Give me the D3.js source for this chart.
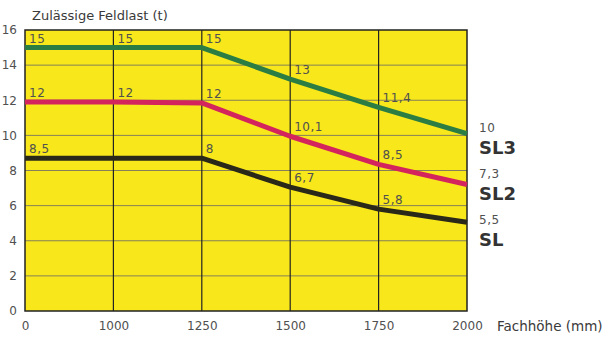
<!DOCTYPE html>
<html><head><meta charset="utf-8">
<script src="https://cdn.jsdelivr.net/npm/d3@7"></script>
<style>body{margin:0;background:#fff}svg{display:block}text{font-family:"DejaVu Sans",sans-serif}</style>
</head><body><svg id="c" width="607" height="339"></svg>
<script>
const categories = [0, 1000, 1250, 1500, 1750, 2000];
const yTicks = [0, 2, 4, 6, 8, 10, 12, 14, 16];
const sl3Values = [15, 15, 15, 13.2, 11.6, 10.1];
const sl2Values = [11.9, 11.9, 11.85, 9.95, 8.35, 7.2];
const slValues  = [8.7, 8.7, 8.7, 7.05, 5.8, 5.05];
const sl3Labels = ["15", "15", "15", "13", "11,4", "10"];
const sl2Labels = ["12", "12", "12", "10,1", "8,5", "7,3"];
const slLabels  = ["8,5", "", "8", "6,7", "5,8", "5,5"];
const seriesNames = ["SL3", "SL2", "SL"];

const series = [
  {name: seriesNames[0], values: sl3Values, labels: sl3Labels, color: "#2b7d43"},
  {name: seriesNames[1], values: sl2Values, labels: sl2Labels, color: "#d3245e"},
  {name: seriesNames[2], values: slValues, labels: slLabels, color: "#2a2818"}
];

const svg = d3.select("#c");
const L = 25, R = 467, T = 30, B = 311;
const x = d3.scalePoint().domain(categories).range([L, R]);
const y = d3.scaleLinear().domain([0, 16]).range([B, T]);
const txt = "#505050";

svg.append("rect").attr("x", L).attr("y", T).attr("width", R - L).attr("height", B - T).attr("fill", "#f8e71a");

svg.append("g").selectAll("line").data(yTicks.slice(1, -1)).join("line")
  .attr("x1", L).attr("x2", R).attr("y1", d => y(d)).attr("y2", d => y(d))
  .attr("stroke", "#85805a").attr("stroke-width", 1);
svg.append("g").selectAll("line").data(categories.slice(1, -1)).join("line")
  .attr("y1", T).attr("y2", B).attr("x1", d => x(d)).attr("x2", d => x(d))
  .attr("stroke", "#222").attr("stroke-width", 1.2);
svg.append("rect").attr("x", L).attr("y", T).attr("width", R - L).attr("height", B - T)
  .attr("fill", "none").attr("stroke", "#222").attr("stroke-width", 1.5);

const yAx = svg.append("g").attr("transform", `translate(${L - 8},0)`)
  .call(d3.axisLeft(y).tickValues(yTicks).tickSize(0).tickPadding(0));
yAx.select(".domain").remove();
yAx.selectAll("text").attr("font-size", 12).attr("fill", txt).attr("font-family", "DejaVu Sans,sans-serif");

const xAx = svg.append("g").attr("transform", `translate(0,${B + 10})`)
  .call(d3.axisBottom(x).tickSize(0).tickPadding(0).tickFormat(d => d));
xAx.select(".domain").remove();
xAx.selectAll("text").attr("font-size", 12).attr("fill", txt).attr("dy", "0.71em").attr("font-family", "DejaVu Sans,sans-serif");

svg.append("text").attr("x", 32).attr("y", 20).attr("font-size", 13).attr("fill", "#3a3a3a").text("Zulässige Feldlast (t)");
svg.append("text").attr("x", 497).attr("y", 331).attr("font-size", 13.5).attr("fill", "#3a3a3a").text("Fachhöhe (mm)");

const line = d3.line().x((d, i) => x(categories[i])).y(d => y(d));

series.forEach((s, k) => {
  svg.append("path").datum(s.values).attr("d", line).attr("fill", "none")
    .attr("stroke", s.color).attr("stroke-width", 5).attr("stroke-linejoin", "round");
  s.values.slice(0, -1).forEach((v, i) => {
    if (!s.labels[i]) return;
    svg.append("text").attr("x", x(categories[i]) + 4).attr("y", y(v) - 5)
      .attr("font-size", 12).attr("letter-spacing", 0.5).attr("fill", txt).text(s.labels[i]);
  });
  const last = s.values.length - 1;
  const by = 132 + k * 46;
  svg.append("text").attr("x", R + 12).attr("y", by).attr("font-size", 12).attr("letter-spacing", 0.5).attr("fill", txt).text(s.labels[last]);
  svg.append("text").attr("x", R + 12).attr("y", by + 22).attr("font-size", 18).attr("font-weight", "bold")
    .attr("font-family", "Lato,sans-serif").attr("fill", "#333").text(s.name);
});
</script></body></html>
